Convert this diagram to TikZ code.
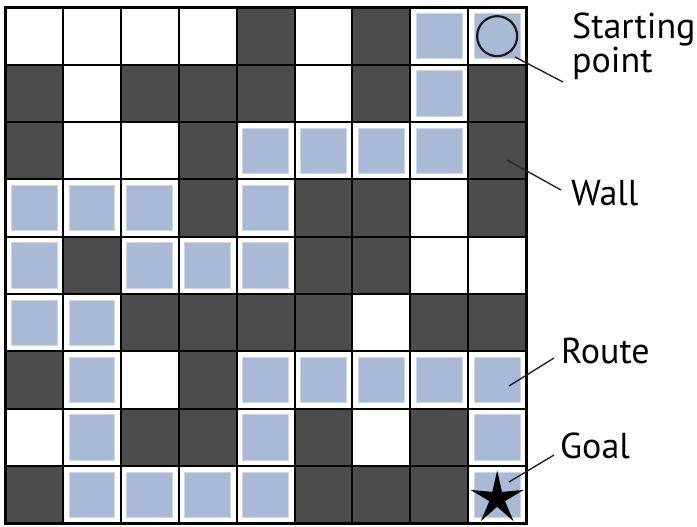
\documentclass[tikz,border=0pt]{standalone}
\usepackage{fontspec}
\setmainfont{PT Sans}
\usetikzlibrary{shapes.geometric}
\definecolor{wallc}{RGB}{76,76,76}
\definecolor{routec}{RGB}{168,186,214}
\definecolor{routeedge}{RGB}{205,215,232}
\begin{document}
\begin{tikzpicture}[x=1pt,y=-1pt,
  cell/.style={draw=black,line width=2pt,minimum width=57.9pt,minimum height=57.3pt,inner sep=0pt,outer sep=0pt},
  cellW/.style={cell,fill=white},
  cellD/.style={cell,fill=wallc},
  cellR/.style={cell,fill=white,path picture={
     \draw[fill=routec,draw=routeedge,line width=0.8pt]
       ([shift={(6pt,-6pt)}]path picture bounding box.north west) rectangle
       ([shift={(-6pt,6pt)}]path picture bounding box.south east);}},
  lbl/.style={font=\fontsize{36}{34}\selectfont,inner sep=0pt,anchor=base west,align=left},
  leader/.style={draw=black!85,line width=1.4pt}]
\useasboundingbox (0,0) rectangle (697,527);
\foreach \row [count=\r from 0] in {
  {W,W,W,W,D,W,D,R,R},
  {D,W,D,D,D,W,D,R,D},
  {D,W,W,D,R,R,R,R,D},
  {R,R,R,D,R,D,D,W,D},
  {R,D,R,R,R,D,D,W,W},
  {R,R,D,D,D,D,W,D,D},
  {D,R,W,D,R,R,R,R,R},
  {W,R,D,D,R,D,W,D,R},
  {D,R,R,R,R,D,D,D,R}}{
  \foreach \t [count=\c from 0] in \row {
    \node[cell\t] (c\r-\c) at ({5+(\c+0.5)*57.9},{7.5+(\r+0.5)*57.3}) {};
  }
}
\draw[line width=3pt] (c0-0.north west) rectangle (c8-8.south east);
% start and goal marks
\node[draw=black!90,circle,line width=2.2pt,minimum size=40pt,inner sep=0pt] (start) at (c0-8) {};
\node[star,star points=5,star point ratio=3.4,fill=black,minimum size=56pt,inner sep=0pt] (goal) at ([yshift=-4pt]c8-8.center) {};
% labels
\node[lbl] (tStart) at (572,73) {Starting\\point};
\node[lbl] (tWall) at (571,205) {Wall};
\node[lbl] (tRoute) at (561,363) {Route};
\node[lbl] (tGoal) at (560,458) {Goal};
% leader end points
\coordinate (aStart) at (515,57);
\coordinate (bStart) at (563,82);
\coordinate (aWall) at (507,160);
\coordinate (bWall) at (561,190);
\coordinate (aRoute) at (509,386);
\coordinate (bRoute) at (554,358);
\coordinate (aGoal) at (509,482);
\coordinate (bGoal) at (554,455);
\draw[leader] (aStart) -- (bStart);
\draw[leader] (aWall) -- (bWall);
\draw[leader] (aRoute) -- (bRoute);
\draw[leader] (aGoal) -- (bGoal);
\end{tikzpicture}
\end{document}
